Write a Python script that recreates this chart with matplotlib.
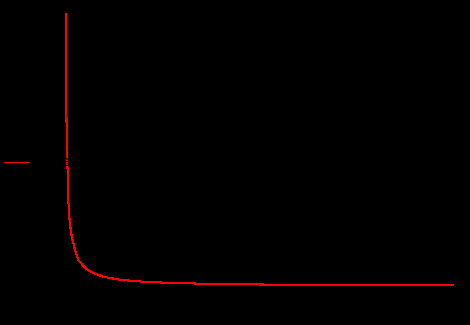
import matplotlib
matplotlib.use("Agg")
import matplotlib.pyplot as plt

# Values (arbitrary units: x index, y magnitude)
x_vals = [1.0, 1.3, 1.7, 2.3, 3.3, 4.3, 5.7, 7.0, 8.3, 10.0, 13.3, 16.7, 21.7,
          26.7, 31.7, 38.3, 46.7, 55.0, 65.0, 78.0, 91.7, 107.0, 130.0, 150.0,
          185.0, 251.0, 315.0, 388.0]
y_vals = [272.0, 186.0, 146.0, 126.0, 86.0, 69.0, 56.0, 48.0, 43.0, 36.0, 26.0,
          22.0, 17.0, 13.7, 11.7, 9.3, 7.7, 6.3, 5.3, 4.3, 3.7, 3.0, 2.5, 2.0,
          1.6, 1.0, 0.8, 0.7]
series_label = "series"

fig = plt.figure(figsize=(4.70, 3.25), dpi=100, facecolor="black")
ax = fig.add_axes([0, 0, 1, 1], facecolor="black")
ax.plot(x_vals, y_vals, color="red", lw=0.75, antialiased=False, label=series_label)
ax.set_xlim(-65, 405)
ax.set_ylim(-39, 286)
for s in ax.spines.values():
    s.set_visible(False)
ax.set_xticks([])
ax.set_yticks([])

leg = fig.legend(loc="center left", bbox_to_anchor=(4 / 470, 1 - 162.5 / 325),
                 frameon=False, borderpad=0, borderaxespad=0,
                 handlelength=1.8, handletextpad=0.5)
for t in leg.get_texts():
    t.set_color("black")

fig.savefig("out.png", dpi=100, facecolor="black")
